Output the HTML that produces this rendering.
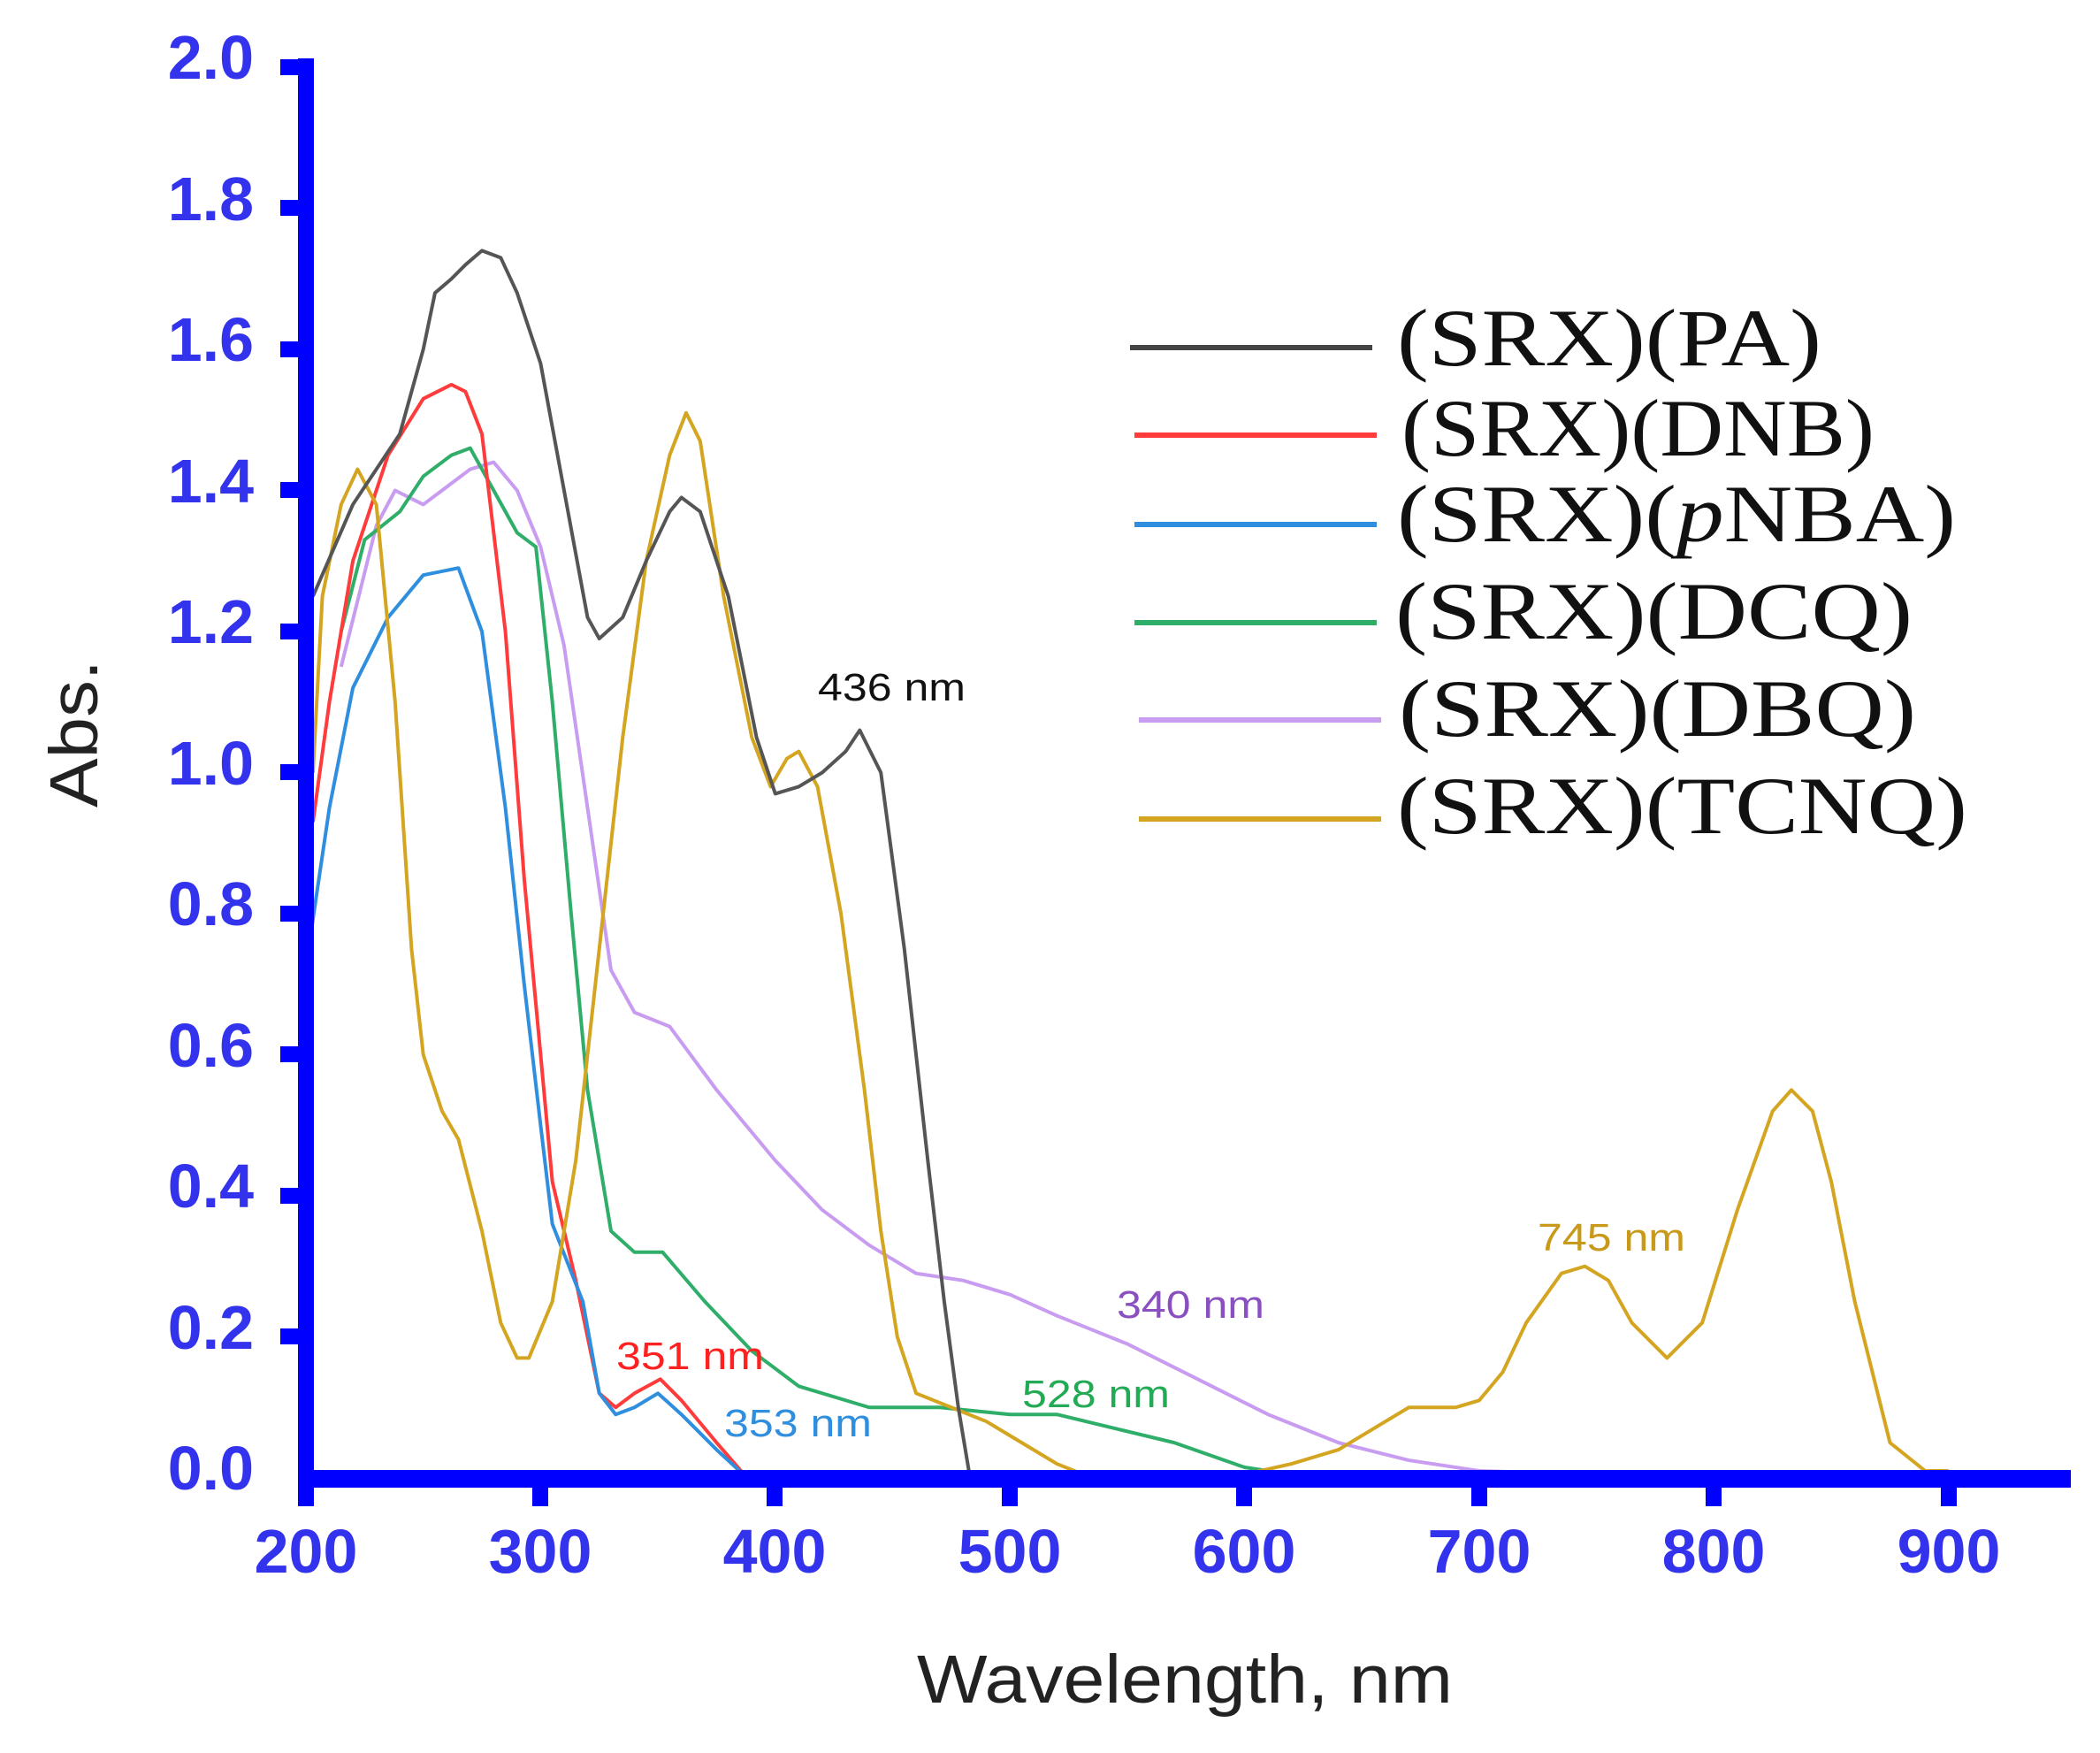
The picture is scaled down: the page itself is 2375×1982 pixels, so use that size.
<!DOCTYPE html>
<html><head><meta charset="utf-8"><style>
html,body{margin:0;padding:0;background:#fff;}
svg{display:block;}
</style></head><body>
<svg width="2375" height="1982" viewBox="0 0 2375 1982" xmlns="http://www.w3.org/2000/svg">
<rect width="2375" height="1982" fill="#fff"/>
<g fill="none" stroke-width="4" stroke-linejoin="round" transform="matrix(2.654,0,0,-797.5,-184.8,1671)">
<polyline vector-effect="non-scaling-stroke" stroke="#c89cf0" points="215,1.15 230,1.35 238,1.4 250,1.38 262,1.41 270,1.43 280,1.44 290,1.40 300,1.32 310,1.18 320,0.95 330,0.72 340,0.66 355,0.64 375,0.55 400,0.45 420,0.38 440,0.33 460,0.29 480,0.28 500,0.26 520,0.23 550,0.19 580,0.14 610,0.09 640,0.05 670,0.025 700,0.01 750,0.005 810,0.005"/>
<polyline vector-effect="non-scaling-stroke" stroke="#2fae6a" points="215,1.2 225,1.33 240,1.37 250,1.42 262,1.45 270,1.46 280,1.40 290,1.34 298,1.32 305,1.1 313,0.8 320,0.55 330,0.35 340,0.32 352,0.32 370,0.25 390,0.18 410,0.13 440,0.1 470,0.1 500,0.09 520,0.09 545,0.07 570,0.05 600,0.015 620,0.005"/>
<polyline vector-effect="non-scaling-stroke" stroke="#ff3b3b" points="203,0.93 210,1.1 220,1.3 235,1.45 250,1.53 262,1.55 268,1.54 275,1.48 285,1.2 293,0.85 300,0.6 305,0.42 315,0.28 325,0.12 332,0.1 340,0.12 351,0.14 360,0.11 375,0.05 388,0"/>
<polyline vector-effect="non-scaling-stroke" stroke="#2f8fde" points="202,0.77 210,0.95 220,1.12 235,1.22 250,1.28 265,1.29 275,1.2 285,0.95 293,0.7 300,0.5 305,0.36 318,0.25 325,0.12 332,0.09 340,0.1 350,0.12 360,0.09 375,0.04 388,0"/>
<polyline vector-effect="non-scaling-stroke" stroke="#d4a520" points="203,1.0 207,1.25 215,1.38 222,1.43 230,1.38 238,1.1 245,0.75 250,0.6 258,0.52 265,0.48 275,0.35 283,0.22 290,0.17 295,0.17 305,0.25 315,0.45 325,0.75 335,1.05 345,1.3 355,1.45 362,1.51 368,1.47 378,1.25 390,1.05 398,0.98 405,1.02 410,1.03 418,0.98 428,0.8 438,0.55 445,0.35 452,0.2 460,0.12 475,0.1 490,0.08 505,0.05 520,0.02 535,0 585,0 600,0.005 620,0.02 640,0.04 660,0.08 670,0.1 690,0.1 700,0.11 710,0.15 720,0.22 735,0.29 745,0.30 755,0.28 765,0.22 780,0.17 795,0.22 810,0.38 825,0.52 833,0.55 842,0.52 850,0.42 860,0.25 875,0.05 890,0.01 900,0.01"/>
<polyline vector-effect="non-scaling-stroke" stroke="#555" points="203,1.25 220,1.38 240,1.48 250,1.6 255,1.68 262,1.70 268,1.72 275,1.74 283,1.73 290,1.68 300,1.58 310,1.40 320,1.22 325,1.19 335,1.22 345,1.30 355,1.37 360,1.39 368,1.37 380,1.25 392,1.05 400,0.97 410,0.98 420,1.0 430,1.03 436,1.06 445,1.0 455,0.75 465,0.45 472,0.25 478,0.1 483,0"/>
</g>
<g fill="#0000ff">
<rect x="337" y="66" width="18" height="1615"/>
<rect x="337" y="1662" width="2005" height="20"/>
<rect x="317" y="67" width="24" height="18"/>
<rect x="317" y="226" width="24" height="18"/>
<rect x="317" y="386" width="24" height="18"/>
<rect x="317" y="545" width="24" height="18"/>
<rect x="317" y="705" width="24" height="18"/>
<rect x="317" y="864" width="24" height="18"/>
<rect x="317" y="1024" width="24" height="18"/>
<rect x="317" y="1183" width="24" height="18"/>
<rect x="317" y="1343" width="24" height="18"/>
<rect x="317" y="1502" width="24" height="18"/>
<rect x="337" y="1675" width="18" height="28"/>
<rect x="602" y="1675" width="18" height="28"/>
<rect x="867" y="1675" width="18" height="28"/>
<rect x="1133" y="1675" width="18" height="28"/>
<rect x="1398" y="1675" width="18" height="28"/>
<rect x="1664" y="1675" width="18" height="28"/>
<rect x="1929" y="1675" width="18" height="28"/>
<rect x="2195" y="1675" width="18" height="28"/>
</g>
<g fill="#3333ee" font-family="Liberation Sans, sans-serif" font-size="70" font-weight="bold" text-anchor="end">
<text x="287" y="89">2.0</text><text x="287" y="249">1.8</text><text x="287" y="408">1.6</text>
<text x="287" y="568">1.4</text><text x="287" y="727">1.2</text><text x="287" y="887">1.0</text>
<text x="287" y="1046">0.8</text><text x="287" y="1206">0.6</text><text x="287" y="1365">0.4</text>
<text x="287" y="1525">0.2</text><text x="287" y="1684">0.0</text>
</g>
<g fill="#3333ee" font-family="Liberation Sans, sans-serif" font-size="70" font-weight="bold" text-anchor="middle">
<text x="346" y="1778">200</text><text x="611" y="1778">300</text><text x="876" y="1778">400</text>
<text x="1142" y="1778">500</text><text x="1407" y="1778">600</text><text x="1673" y="1778">700</text>
<text x="1938" y="1778">800</text><text x="2204" y="1778">900</text>
</g>
<text x="1037" y="1925" font-family="Liberation Sans, sans-serif" font-size="77" fill="#222" textLength="606" lengthAdjust="spacingAndGlyphs">Wavelength, nm</text>
<text transform="translate(110,913) rotate(-90)" font-family="Liberation Sans, sans-serif" font-size="77" fill="#222" textLength="167" lengthAdjust="spacingAndGlyphs">Abs.</text>
<g stroke-width="6">
<line x1="1278" y1="393" x2="1552" y2="393" stroke="#444"/>
<line x1="1283" y1="492" x2="1557" y2="492" stroke="#ff3b3b"/>
<line x1="1283" y1="593" x2="1557" y2="593" stroke="#2f8fde"/>
<line x1="1283" y1="704" x2="1557" y2="704" stroke="#2fae6a"/>
<line x1="1288" y1="814" x2="1562" y2="814" stroke="#c89cf0"/>
<line x1="1288" y1="926" x2="1562" y2="926" stroke="#d4a520"/>
</g>
<g font-family="Liberation Serif, serif" font-size="92" fill="#111">
<text x="1580" y="413" textLength="480" lengthAdjust="spacingAndGlyphs">(SRX)(PA)</text>
<text x="1585" y="515" textLength="535" lengthAdjust="spacingAndGlyphs">(SRX)(DNB)</text>
<text x="1580" y="612" textLength="632" lengthAdjust="spacingAndGlyphs">(SRX)(<tspan font-style="italic">p</tspan>NBA)</text>
<text x="1578" y="722" textLength="585" lengthAdjust="spacingAndGlyphs">(SRX)(DCQ)</text>
<text x="1582" y="832" textLength="585" lengthAdjust="spacingAndGlyphs">(SRX)(DBQ)</text>
<text x="1580" y="942" textLength="645" lengthAdjust="spacingAndGlyphs">(SRX)(TCNQ)</text>
</g>
<g font-family="Liberation Sans, sans-serif" font-size="44">
<text x="925" y="792" fill="#111" textLength="167" lengthAdjust="spacingAndGlyphs">436 nm</text>
<text x="697" y="1548" fill="#ff2020" textLength="167" lengthAdjust="spacingAndGlyphs">351 nm</text>
<text x="819" y="1624" fill="#2f8fde" textLength="167" lengthAdjust="spacingAndGlyphs">353 nm</text>
<text x="1156" y="1591" fill="#22aa55" textLength="167" lengthAdjust="spacingAndGlyphs">528 nm</text>
<text x="1263" y="1490" fill="#8a4fc0" textLength="167" lengthAdjust="spacingAndGlyphs">340 nm</text>
<text x="1739" y="1414" fill="#c8991a" textLength="167" lengthAdjust="spacingAndGlyphs">745 nm</text>
</g>
</svg>
</body></html>
